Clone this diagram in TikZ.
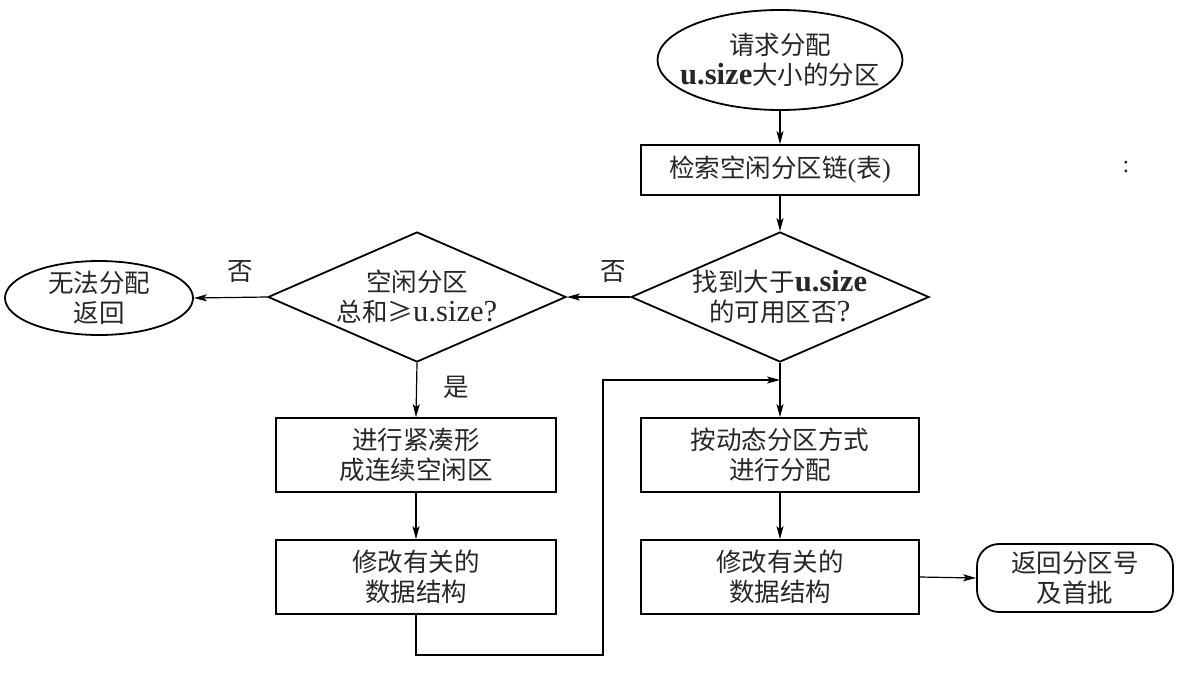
\documentclass[tikz,border=0pt]{standalone}
\usepackage{fontspec}
\setmainfont[Scale=1.2]{Liberation Serif}
\newfontfamily\cjk{Noto Sans CJK SC}
\usetikzlibrary{shapes.geometric,arrows.meta}
\begin{document}
\begin{tikzpicture}[x=1pt,y=-1pt,
  every node/.style={font=\fontsize{25.5}{30}\selectfont, text=black!85},
  box/.style={draw=black, line width=1.8pt, minimum width=280pt, minimum height=74pt, inner sep=0pt, align=center},
  oval/.style={draw=black, line width=1.8pt, ellipse, inner sep=0pt},
  dia/.style={draw=black, line width=1.8pt, diamond, inner sep=0pt, minimum width=298pt, minimum height=130pt},
  lbl/.style={align=center, inner sep=0pt},
  arr/.style={line width=1.2pt, -{Stealth[length=13pt,width=7pt,inset=3pt]}},
  ln/.style={line width=1.2pt}]
\useasboundingbox (0,0) rectangle (1190,672);

% shapes
\node[oval, minimum width=245pt, minimum height=100pt] (e1) at (780,60) {};
\node[lbl] (e1t) at (780,60) {{\cjk 请求分配}\\{\bfseries u.size}{\cjk 大小的分区}};

\node[box, minimum width=278pt, minimum height=50pt] (b1) at (780,170) {\cjk 检索空闲分区链{\rmfamily\fontsize{22}{26}\selectfont(}表{\rmfamily\fontsize{22}{26}\selectfont)}};

\node[dia] (d1) at (780,297) {};
\node[lbl] (d1t) at (780,297) {{\cjk 找到大于}{\bfseries u.size}\\{\cjk 的可用区否}?};

\node[dia] (d2) at (417,297) {};
\node[lbl] (d2t) at (417,297) {{\cjk 空闲分区}\\{\cjk 总和≥}u.size?};

\node[oval, minimum width=188pt, minimum height=74pt] (e2) at (99,298) {};
\node[lbl] (e2t) at (99,298) {{\cjk 无法分配}\\{\cjk 返回}};

\node[box] (b2) at (416,455) {{\cjk 进行紧凑形}\\{\cjk 成连续空闲区}};
\node[box] (b3) at (416,577) {{\cjk 修改有关的}\\{\cjk 数据结构}};
\node[box, minimum width=278pt] (b4) at (780,455) {{\cjk 按动态分区方式}\\{\cjk 进行分配}};
\node[box, minimum width=278pt] (b5) at (780,577) {{\cjk 修改有关的}\\{\cjk 数据结构}};
\node[draw=black, line width=1.8pt, rounded corners=22pt, minimum width=196pt, minimum height=68pt, inner sep=0pt, align=center] (r1) at (1075,578) {{\cjk 返回分区号}\\{\cjk 及首批}};

\node[lbl, font=\fontsize{20}{24}\selectfont] (colon) at (1126,167) {:};

% labels
\node[lbl] (no1) at (613,272) {\cjk 否};
\node[lbl] (no2) at (240,272) {\cjk 否};
\node[lbl] (yes) at (456,387) {\cjk 是};

% connectors
\draw[arr] (e1.south) -- (b1.north);
\draw[arr] (b1.south) -- (d1.north);
\draw[arr] (d1.west) -- (d2.east);
\draw[arr] (d2.west) -- (e2.east);
\draw[arr] (d2.south) -- (b2.north);
\draw[arr] (b2.south) -- (b3.north);
\draw[arr] (d1.south) -- (b4.north);
\draw[arr] (b4.south) -- (b5.north);
\draw[arr] (b5.east) -- (r1.west);
\coordinate (j) at (780,380);
\coordinate (c1) at (603,655);
\draw[arr] (b3.south) |- (c1) |- (j);
\end{tikzpicture}
\end{document}
